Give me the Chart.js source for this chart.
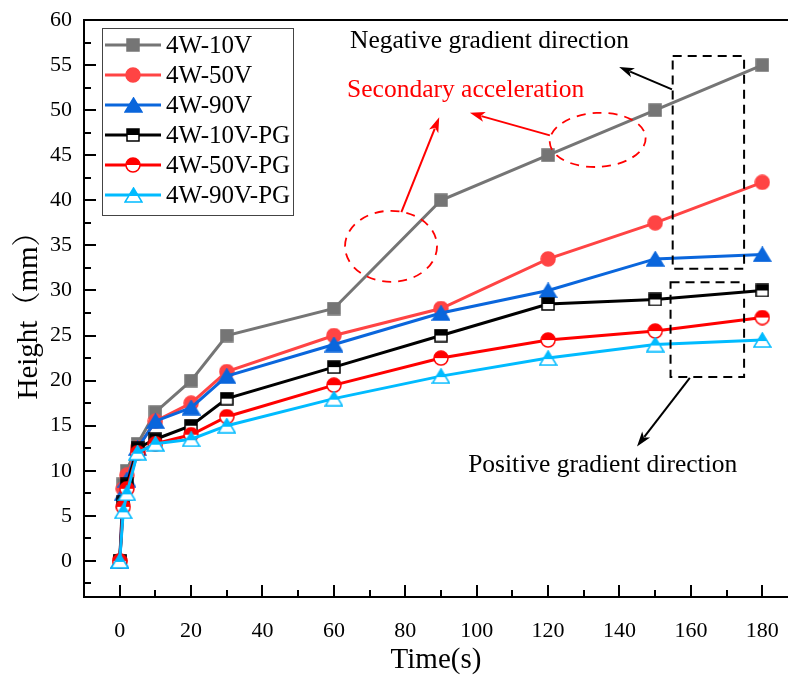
<!DOCTYPE html>
<html><head><meta charset="utf-8">
<script src="https://cdn.jsdelivr.net/npm/chart.js@4.4.0/dist/chart.umd.min.js"></script>
<style>html,body{margin:0;padding:0;overflow:hidden;background:#fff;}#wrap{width:788px;height:684px;}</style>
</head><body><div id="wrap"><canvas id="c" width="788" height="684"></canvas></div>
<script>
// ---- data ----
const times = [0, 1, 2, 5, 10, 20, 30, 60, 90, 120, 150, 180];
const seriesNames = ['4W-10V', '4W-50V', '4W-90V', '4W-10V-PG', '4W-50V-PG', '4W-90V-PG'];
const h4W10V   = [0, 8.5, 10, 13, 16.5, 20, 25, 28, 40, 45, 50, 55];
const h4W50V   = [0, 8, 9.5, 12.5, 15.5, 17.5, 21, 25, 28, 33.5, 37.5, 42];
const h4W90V   = [0, 7.5, 9, 12.5, 15.5, 17, 20.5, 24, 27.5, 30, 33.5, 34];
const h4W10VPG = [0, 6.5, 8.5, 12.5, 13.5, 15, 18, 21.5, 25, 28.5, 29, 30];
const h4W50VPG = [0, 6, 8, 12, 13, 14, 16, 19.5, 22.5, 24.5, 25.5, 27];
const h4W90VPG = [0, 5.5, 7.5, 12, 13, 13.5, 15, 18, 20.5, 22.5, 24, 24.5];
const xTickLabels = [0, 20, 40, 60, 80, 100, 120, 140, 160, 180];
const yTickLabels = [0, 5, 10, 15, 20, 25, 30, 35, 40, 45, 50, 55, 60];
const annotationTexts = ['Negative gradient direction', 'Secondary acceleration', 'Positive gradient direction'];

// ---- styles ----
const SERIF = "'Liberation Serif', 'Noto Serif CJK SC', 'Noto Sans CJK SC', serif";
const allValues = [h4W10V, h4W50V, h4W90V, h4W10VPG, h4W50VPG, h4W90VPG];
const colors = ['#757575', '#FF4444', '#0A66DC', '#000000', '#FF0000', '#00BBFF'];
const shapes = ['square', 'circle', 'triangle', 'square', 'circle', 'triangle'];
const halves = [false, false, false, true, true, true];

function makeMarker(shape, color, half) {
  const W = shape === 'triangle' ? 19 : (shape === 'circle' ? 16 : 14);
  const H = shape === 'triangle' ? 16 : W;
  const c = document.createElement('canvas');
  c.width = W; c.height = H;
  const g = c.getContext('2d');
  const path = () => {
    g.beginPath();
    if (shape === 'square') g.rect(1, 1, W - 2, H - 2);
    else if (shape === 'circle') g.arc(W / 2, H / 2, W / 2 - 1, 0, Math.PI * 2);
    else { g.moveTo(W / 2, 1); g.lineTo(W - 1, H - 1); g.lineTo(1, H - 1); g.closePath(); }
  };
  path(); g.fillStyle = half ? '#fff' : color; g.fill();
  if (half) {
    g.save(); path(); g.clip(); g.fillStyle = color; g.fillRect(0, 0, W, H / 2 + (shape === 'triangle' ? 1 : 0)); g.restore();
  }
  path(); g.lineWidth = 1.5; g.strokeStyle = color; g.stroke();
  return c;
}
const markers = shapes.map((s, i) => makeMarker(s, colors[i], halves[i]));

const datasets = seriesNames.map((name, i) => ({
  label: name,
  data: times.map((t, k) => ({ x: t, y: allValues[i][k] })),
  borderColor: colors[i],
  backgroundColor: colors[i],
  borderWidth: 3,
  pointStyle: markers[i],
  pointRadius: 8,
  tension: 0,
  order: seriesNames.length - 1 - i
}));

const decorPlugin = {
  id: 'decor',
  beforeDraw(chart) {
    const ctx = chart.ctx;
    ctx.save(); ctx.fillStyle = '#fff'; ctx.fillRect(0, 0, chart.width, chart.height); ctx.restore();
  },
  afterDraw(chart) {
    const ctx = chart.ctx;
    const xs = chart.scales.x, ys = chart.scales.y;
    const ca = chart.chartArea;
    const px = v => xs.getPixelForValue(v), py = v => ys.getPixelForValue(v);
    ctx.save();
    // frame top
    ctx.strokeStyle = '#000'; ctx.lineWidth = 2;
    ctx.beginPath(); ctx.moveTo(ca.left, ca.top); ctx.lineTo(ca.right, ca.top); ctx.stroke();
    // inside ticks
    ctx.lineWidth = 2;
    for (let v = -2.5; v <= 60.001; v += 2.5) {
      const y = Math.round(py(v));
      const len = (Math.abs(v % 5) < 1e-6) ? 12 : 7;
      ctx.beginPath(); ctx.moveTo(ca.left, y); ctx.lineTo(ca.left + len, y); ctx.stroke();
    }
    for (let v = 0; v <= 180.001; v += 10) {
      const x = Math.round(px(v));
      const len = (Math.abs(v % 20) < 1e-6) ? 12 : 7;
      ctx.beginPath(); ctx.moveTo(x, ca.bottom); ctx.lineTo(x, ca.bottom - len); ctx.stroke();
    }
    // annotations
    function arrow(x1, y1, x2, y2, color) {
      const a = px(x1), b = py(y1), c = px(x2), d = py(y2);
      const ang = Math.atan2(d - b, c - a);
      const L = 15, Wd = 5;
      ctx.strokeStyle = color; ctx.fillStyle = color; ctx.lineWidth = 2; ctx.setLineDash([]);
      ctx.beginPath(); ctx.moveTo(a, b); ctx.lineTo(c - Math.cos(ang) * L * 0.8, d - Math.sin(ang) * L * 0.8); ctx.stroke();
      ctx.beginPath();
      ctx.moveTo(c, d);
      ctx.lineTo(c - Math.cos(ang) * L - Math.sin(ang) * Wd, d - Math.sin(ang) * L + Math.cos(ang) * Wd);
      ctx.lineTo(c - Math.cos(ang) * L * 0.75, d - Math.sin(ang) * L * 0.75);
      ctx.lineTo(c - Math.cos(ang) * L + Math.sin(ang) * Wd, d - Math.sin(ang) * L - Math.cos(ang) * Wd);
      ctx.closePath(); ctx.fill();
    }
    function dashedRect(x1, y1, x2, y2) {
      ctx.strokeStyle = '#000'; ctx.lineWidth = 2; ctx.setLineDash([9, 6]);
      ctx.beginPath(); ctx.rect(px(x1), py(y1), px(x2) - px(x1), py(y2) - py(y1)); ctx.stroke();
    }
    function dashedEllipse(cx, cy, rx, ry, rot) {
      ctx.strokeStyle = '#FF0000'; ctx.lineWidth = 1.8; ctx.setLineDash([9, 7]);
      ctx.beginPath(); ctx.ellipse(px(cx), py(cy), rx, ry, rot, 0, Math.PI * 2); ctx.stroke();
    }
    dashedRect(154.9, 56.0, 174.9, 32.4);
    dashedRect(154.3, 30.9, 174.9, 20.4);
    dashedEllipse(76.0, 34.9, 46, 35.5, 0);
    dashedEllipse(133.9, 46.7, 48, 27, -0.05);
    ctx.setLineDash([]);
    arrow(154.7, 52.3, 139.9, 54.8, '#000');
    arrow(159.7, 20.3, 144.9, 12.7, '#000');
    arrow(78.9, 38.7, 89.5, 49.2, '#FF0000');
    arrow(120.5, 47.2, 98.1, 49.7, '#FF0000');
    ctx.font = '25.5px ' + SERIF; ctx.textBaseline = 'alphabetic'; ctx.textAlign = 'left';
    ctx.fillStyle = '#000'; ctx.fillText(annotationTexts[0], px(64.5), py(56.9));
    ctx.fillStyle = '#FF0000'; ctx.fillText(annotationTexts[1], px(63.7), py(51.45));
    ctx.fillStyle = '#000'; ctx.fillText(annotationTexts[2], px(97.6), py(9.86));
    // legend
    const lx = ca.left + 18, ly = ca.top + 8, lw = 191, lh = 187;
    ctx.fillStyle = '#fff'; ctx.fillRect(lx, ly, lw, lh);
    ctx.strokeStyle = '#444'; ctx.lineWidth = 1; ctx.strokeRect(lx + 0.5, ly + 0.5, lw, lh);
    ctx.font = '25px ' + SERIF; ctx.textBaseline = 'middle';
    seriesNames.forEach((name, i) => {
      const yy = ly + 17 + i * 30;
      ctx.strokeStyle = colors[i]; ctx.lineWidth = 3;
      ctx.beginPath(); ctx.moveTo(lx + 3, yy); ctx.lineTo(lx + 59, yy); ctx.stroke();
      const m = markers[i];
      ctx.drawImage(m, Math.round(lx + 31 - m.width / 2), Math.round(yy - m.height / 2));
      ctx.fillStyle = '#000';
      ctx.fillText(name, lx + 64, yy + 1);
    });
    ctx.restore();
  }
};

new Chart(document.getElementById('c'), {
  type: 'line',
  data: { datasets },
  options: {
    responsive: false,
    animation: false,
    events: [],
    layout: { autoPadding: false, padding: { left: 0, top: 20, right: 0, bottom: 0 } },
    plugins: { legend: { display: false }, tooltip: { enabled: false } },
    scales: {
      x: {
        type: 'linear', min: -10, max: 187.2,
        afterBuildTicks: s => { s.ticks = xTickLabels.map(v => ({ value: v })); },
        afterFit: s => { s.height = 87; s.paddingLeft = 0; s.paddingRight = 0; },
        grid: { drawOnChartArea: false, drawTicks: false },
        border: { display: true, color: '#000', width: 2 },
        ticks: { color: '#000', padding: 0, font: { family: SERIF, size: 22, lineHeight: 3.09 }, maxRotation: 0 },
        title: { display: true, text: 'Time(s)', color: '#000', font: { family: SERIF, size: 29 }, padding: { top: 0, bottom: 6 } }
      },
      y: {
        type: 'linear', min: -4, max: 60,
        afterBuildTicks: s => { s.ticks = yTickLabels.map(v => ({ value: v })); },
        afterFit: s => { s.width = 84; s.paddingTop = 0; s.paddingBottom = 0; },
        grid: { drawOnChartArea: false, drawTicks: false },
        border: { display: true, color: '#000', width: 2 },
        ticks: { color: '#000', padding: 12, font: { family: SERIF, size: 22 } },
        title: { display: true, text: 'Height（mm）', color: '#000', font: { family: SERIF, size: 29 }, padding: { top: 12, bottom: 0 } }
      }
    }
  },
  plugins: [decorPlugin]
});
</script></body></html>
